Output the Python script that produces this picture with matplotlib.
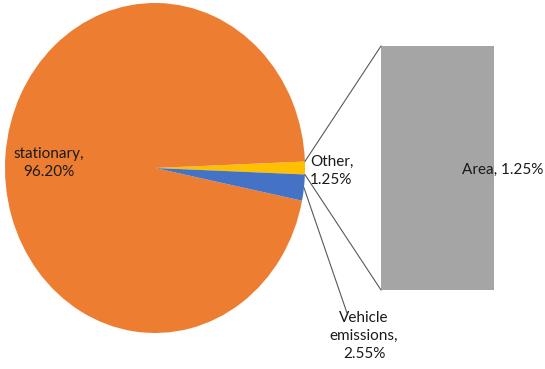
import matplotlib
matplotlib.use("Agg")
import matplotlib.pyplot as plt
from matplotlib.patches import ConnectionPatch
import numpy as np

# pie slices (counterclockwise from the split slice)
pie_labels = ["Other", "stationary", "Vehicle\nemissions"]
pie_values = [1.25, 96.20, 2.55]
pie_colors = ["#FFC000", "#ED7D31", "#4472C4"]

# expanded bar
bar_labels = ["Area"]
bar_values = [1.25]
bar_colors = ["#A5A5A5"]

W, H = 545, 369
plt.rcParams["font.family"] = ["Lato", "DejaVu Sans"]

fig = plt.figure(figsize=(W / 100, H / 100), dpi=100)


def fbox(x0, y0, x1, y1):
    # pixel box (top-left origin) -> figure fraction rect
    return [x0 / W, 1 - y1 / H, (x1 - x0) / W, (y1 - y0) / H]


def fpt(x, y):
    return (x / W, 1 - y / H)


ax = fig.add_axes(fbox(5, 3, 305, 333))
start = -pie_values[0] / 100 * 360 / 2
wedges, _ = ax.pie(pie_values, colors=pie_colors, startangle=start,
                   counterclock=True, radius=1, center=(0, 0))
ax.set_aspect("auto")
ax.set_xlim(-1, 1)
ax.set_ylim(-1, 1)
ax.axis("off")

ax2 = fig.add_axes(fbox(381, 46, 494, 290))
ax2.bar([0], bar_values, width=1.0, color=bar_colors)
ax2.set_xlim(-0.5, 0.5)
ax2.set_ylim(0, sum(bar_values))
ax2.axis("off")

# connector lines from split slice to bar
a1 = np.deg2rad(wedges[0].theta2)
a2 = np.deg2rad(wedges[0].theta1)
for ang, yb in [(a1, sum(bar_values)), (a2, 0)]:
    con = ConnectionPatch(xyA=(np.cos(ang), np.sin(ang)), coordsA=ax.transData,
                          xyB=(-0.5, yb), coordsB=ax2.transData,
                          color="#595959", lw=0.8)
    fig.add_artist(con)

# leader line for vehicle emissions
w = wedges[2]
mid = np.deg2rad((w.theta1 + w.theta2) / 2)
con = ConnectionPatch(xyA=(np.cos(mid), np.sin(mid)), coordsA=ax.transData,
                      xyB=fpt(347, 313), coordsB=fig.transFigure,
                      color="#595959", lw=0.8)
fig.add_artist(con)

tc = "#1a1a1a"
fs = 11
ls = 1.4
fig.text(*fpt(49, 163), f"{pie_labels[1]},\n{pie_values[1]:.2f}%", ha="center",
         va="center", fontsize=fs, color=tc, linespacing=ls)
fig.text(*fpt(310, 171), f"{pie_labels[0]},\n{pie_values[0]:.2f}%", ha="left",
         va="center", fontsize=fs, color=tc, linespacing=ls)
fig.text(*fpt(364, 336), f"{pie_labels[2]},\n{pie_values[2]:.2f}%", ha="center",
         va="center", fontsize=fs, color=tc, linespacing=ls)
fig.text(*fpt(503, 170), f"{bar_labels[0]}, {bar_values[0]:.2f}%", ha="center",
         va="center", fontsize=fs, color=tc)

fig.savefig("out.png", dpi=100)
